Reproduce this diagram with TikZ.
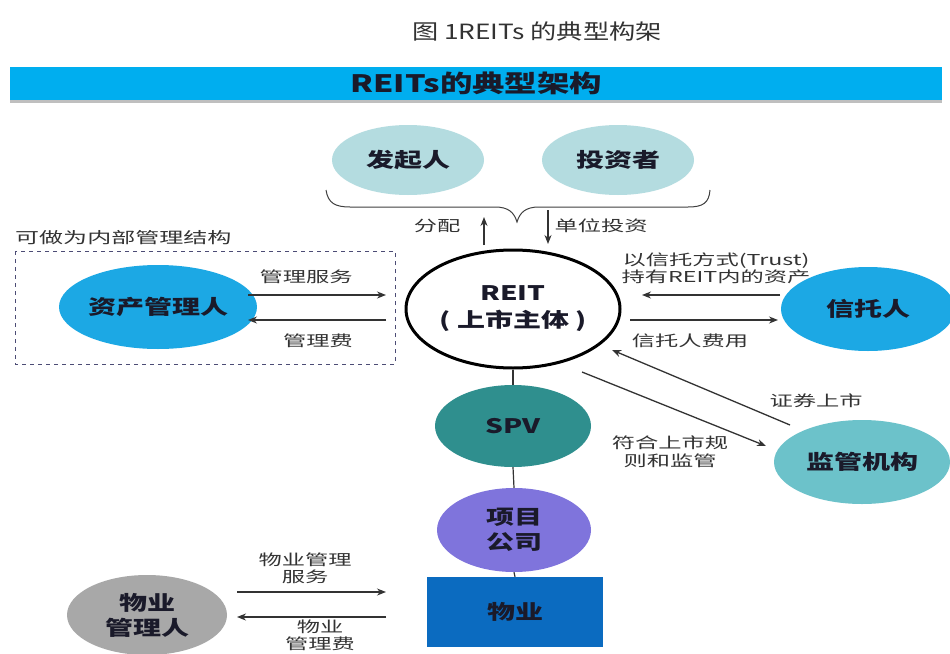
\documentclass[tikz,border=0pt]{standalone}
\usepackage{fontspec}
\setmainfont{Noto Sans CJK SC}
\newfontfamily\labf[FakeStretch=1.55]{Noto Sans CJK SC}
\newfontfamily\nodef[FakeStretch=1.4]{Noto Sans CJK SC}
\newfontfamily\banf[FakeStretch=1.35]{Noto Sans CJK SC}
\newfontfamily\titf[FakeStretch=1.25]{Noto Sans CJK SC}
\usetikzlibrary{shapes.geometric,arrows.meta}
\definecolor{lteal}{HTML}{B4DCE0}
\definecolor{cyanb}{HTML}{1CA8E4}
\definecolor{banner}{HTML}{00AEEF}
\definecolor{spvc}{HTML}{2F8F8E}
\definecolor{purp}{HTML}{7F74DC}
\definecolor{propc}{HTML}{0B6BC0}
\definecolor{grayc}{HTML}{A8A8A8}
\definecolor{regc}{HTML}{6CC2CA}
\definecolor{txt}{HTML}{1A1A2A}
\definecolor{lbl}{HTML}{333333}
\tikzset{
  ell/.style={ellipse,draw=none,inner sep=0pt,font=\nodef\bfseries\fontsize{20}{24}\selectfont,text=txt,align=center},
  lab/.style={font=\labf\fontsize{15}{18}\selectfont,text=lbl,align=center,inner sep=0pt},
  arr/.style={draw=black!80,line width=1.3pt,-{Stealth[length=9pt,width=7pt]}},
  conn/.style={draw=black!80,line width=1.2pt}
}
\begin{document}
\begin{tikzpicture}[x=1pt,y=-1pt]
\useasboundingbox (0,0) rectangle (950,653);
\fill[white] (0,0) rectangle (950,653);
% title
\node[font=\titf\fontsize{21}{24}\selectfont,text=black!80] (title) at (537,31) {图 1REITs 的典型构架};
% banner
\fill[black!25] (10,99) rectangle (942,103);
\node[fill=banner,minimum width=932pt,minimum height=33pt,inner sep=0pt,anchor=north west,
  font=\banf\bfseries\fontsize{24}{26}\selectfont,text=txt] (banner) at (10,67) {REITs的典型架构};
% top ellipses
\node[ell,fill=lteal,minimum width=152pt,minimum height=70pt] (fqr) at (408,160) {发起人};
\node[ell,fill=lteal,minimum width=152pt,minimum height=70pt] (tzz) at (618,160) {投资者};
% brace
\draw[black!75,line width=1pt] (326,190) .. controls (328,203) and (335,207) .. (350,207)
  -- (495,207) .. controls (508,207) and (514,212) .. (517,222)
  .. controls (520,212) and (526,207) .. (539,207) -- (688,207)
  .. controls (703,207) and (709,203) .. (710,190);
\coordinate (braceL) at (484,245);
\coordinate (braceLt) at (484,217);
\coordinate (braceR) at (548,210);
\coordinate (braceRt) at (548,244);
\draw[arr] (braceL) -- (braceLt);
\draw[arr] (braceR) -- (braceRt);
\node[lab] (fp) at (437,226) {分配};
\node[lab] (dwtz) at (601,226) {单位投资};
% REIT
\node[ellipse,draw=black,line width=3pt,minimum width=214pt,minimum height=118pt,inner sep=0pt,
  font=\nodef\bfseries\fontsize{20}{27}\selectfont,text=txt,align=center] (reit) at (513,309) {REIT\\( 上市主体 )};
% asset manager box
\draw[draw=black!60!blue!40!gray,line width=1pt,dash pattern=on 4pt off 4pt] (15,251) rectangle (395,364);
\node[lab,font=\labf\fontsize{15.5}{18}\selectfont,anchor=west] (nb) at (15,238) {可做为内部管理结构};
\node[ell,fill=cyanb,minimum width=182pt,minimum height=84pt] (zcgl) at (158,307) {资产管理人};
\coordinate (a1s) at (248,295);
\coordinate (a1e) at (386,295);
\coordinate (a2s) at (386,320);
\coordinate (a2e) at (248,320);
\draw[arr] (a1s) -- (a1e);
\draw[arr] (a2s) -- (a2e);
\node[lab] (glfw) at (306,277) {管理服务};
\node[lab] (glf) at (318,341) {管理费};
% trustee
\node[ell,fill=cyanb,minimum width=174pt,minimum height=84pt] (xtr) at (868,309) {信托人};
\coordinate (t1s) at (780,295);
\coordinate (t1e) at (642,295);
\coordinate (t2s) at (630,320);
\coordinate (t2e) at (778,320);
\draw[arr] (t1s) -- (t1e);
\draw[arr] (t2s) -- (t2e);
\node[lab,font=\labf\fontsize{15}{17}\selectfont] (tlab) at (716,268) {以信托方式(Trust)\\持有REIT内的资产};
\node[lab] (xtfy) at (690,341) {信托人费用};
% regulator
\node[ell,fill=regc,minimum width=176pt,minimum height=84pt] (jg) at (862,462) {监管机构};
\coordinate (r1s) at (582,372);
\coordinate (r1e) at (766,446);
\coordinate (r2s) at (790,425);
\coordinate (r2e) at (612,350);
\draw[arr] (r1s) -- (r1e);
\draw[arr] (r2s) -- (r2e);
\node[lab] (zqss) at (816,401) {证券上市};
\node[lab,font=\labf\fontsize{15}{18}\selectfont] (fh) at (670,452) {符合上市规\\则和监管};
% vertical chain
\node[ell,fill=spvc,minimum width=156pt,minimum height=82pt] (spv) at (513,426) {SPV};
\node[ell,fill=purp,minimum width=154pt,minimum height=84pt,font=\nodef\bfseries\fontsize{20}{25}\selectfont] (xmgs) at (514,530) {项目\\公司};
\node[fill=propc,minimum width=176pt,minimum height=70pt,inner sep=0pt,
  font=\nodef\bfseries\fontsize{20}{24}\selectfont,text=txt] (wy) at (515,612) {物业};
\draw[conn] (reit.south) -- (spv.north);
\draw[conn] (spv.south) -- (xmgs.north);
\draw[conn] (xmgs.south) -- (wy.north);
% property manager
\node[ell,fill=grayc,minimum width=160pt,minimum height=80pt,font=\nodef\bfseries\fontsize{20}{25}\selectfont] (wygl) at (147,615) {物业\\管理人};
\coordinate (p1s) at (237,592);
\coordinate (p1e) at (386,592);
\coordinate (p2s) at (386,617);
\coordinate (p2e) at (237,617);
\draw[arr] (p1s) -- (p1e);
\draw[arr] (p2s) -- (p2e);
\node[lab,font=\labf\fontsize{15}{17}\selectfont] (wyfw) at (305,568) {物业管理\\服务};
\node[lab,font=\labf\fontsize{15}{17}\selectfont] (wyf) at (320,635) {物业\\管理费};
\end{tikzpicture}
\end{document}
